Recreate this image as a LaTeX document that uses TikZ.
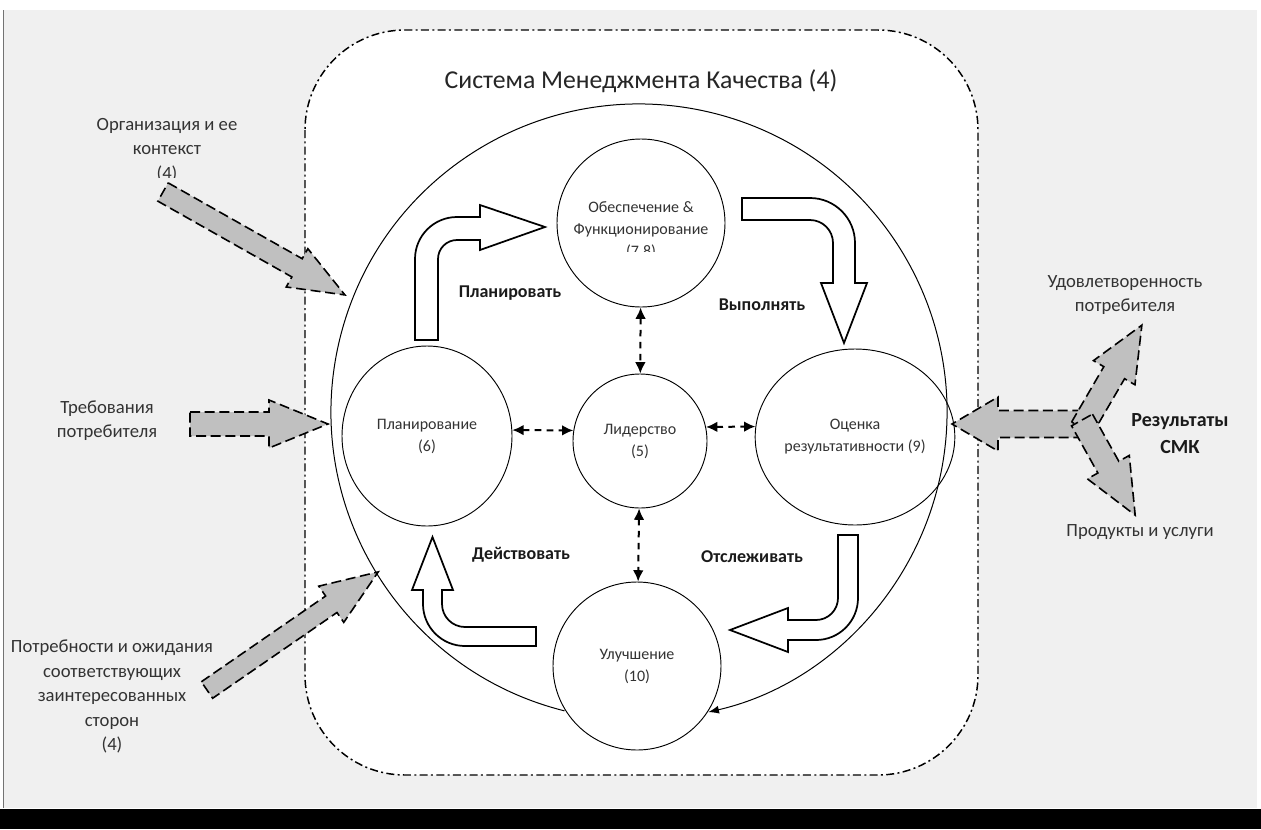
\documentclass[tikz,border=0pt]{standalone}
\usepackage{fontspec}
\setmainfont{Carlito}
\usetikzlibrary{arrows.meta,shapes.geometric,calc}
\definecolor{bggrey}{HTML}{F0F0F0}
\definecolor{argrey}{HTML}{C0C0C0}
\definecolor{txtgrey}{HTML}{333333}
\definecolor{boldtxt}{HTML}{1A1A1A}
% #1 x, #2 y (tail centre), #3 angle, #4 length, #5 shaft half width, #6 head half width, #7 head length
\newcommand{\blockarr}[7]{%
  \begin{scope}[shift={(#1,#2)},rotate=#3]
    \filldraw[inarrow] (0,-#5) -- ({#4-#7},-#5) -- ({#4-#7},-#6) -- (#4,0) -- ({#4-#7},#6) -- ({#4-#7},#5) -- (0,#5) -- cycle;
  \end{scope}}
\begin{document}
\begin{tikzpicture}[x=0.75pt,y=0.75pt,yscale=-1,
  inarrow/.style={fill=argrey,draw=black,line width=1.2pt,dash pattern=on 7.5pt off 3.5pt},
  wharrow/.style={fill=white,draw=black,line width=1.3pt,line join=miter},
  darr/.style={{Latex[length=8.5pt,width=8pt]}-{Latex[length=8.5pt,width=8pt]},dash pattern=on 5pt off 4pt,line width=1.5pt},
  proc/.style={draw=black,line width=0.7pt,fill=white,inner sep=0pt,text=txtgrey,align=center,font=\fontsize{12}{16.5}\selectfont},
  intxt/.style={text=txtgrey,align=center,font=\fontsize{12}{16.5}\selectfont,inner sep=0pt},
  outtxt/.style={text=txtgrey,align=center,font=\fontsize{14}{18.4}\selectfont,inner sep=0pt},
  phase/.style={text=boldtxt,font=\bfseries\fontsize{13.5}{16}\selectfont,inner sep=0pt},
  frame/.style={fill=white,line width=1.1pt,dash pattern=on 6pt off 2.5pt on 1.5pt off 2.5pt,rounded corners=75pt}
]
\useasboundingbox (0,0) rectangle (1261,829);
% background
\fill[bggrey] (3,10) rectangle (1257,808);
\draw[black!55,line width=0.6pt] (3,10) -- (3,808);
\fill[black] (0,809) rectangle (1261,829);
% QMS frame
\draw[frame] (305,30) rectangle (978,775);
\node[text=black!85,font=\fontsize{19.3}{22}\selectfont,inner sep=0pt] (title) at (641,81) {Система Менеджмента Качества (4)};

% process circles
\coordinate (bigc) at (639,412);
\node[proc,circle,minimum size=126pt] (obes) at (641,223) {};
\node[proc,ellipse,minimum width=127.5pt,minimum height=135pt] (plan) at (427,436) {Планирование\\(6)};
\node[proc,circle,minimum size=100.5pt] (lid) at (640,441) {Лидерство\\(5)};
\node[proc,ellipse,minimum width=126pt,minimum height=132pt] (ocen) at (855,437) {Оценка\\результативности (9)};
\node[proc,circle,minimum size=126pt] (ulu) at (637,666) {Улучшение\\(10)};
\begin{scope}
  \clip (550,150) rectangle (730,251);
  \node[intxt] (obestxt) at (641,230) {Обеспечение \&\\Функционирование\\(7,8)};
\end{scope}

% big cycle
\draw[line width=0.75pt,-{Latex[length=8pt,width=6pt]}] ($(bigc)+(104:308)$) arc[start angle=104,end angle=437,radius=308];

% dashed links
\draw[darr] (obes) -- (lid);
\draw[darr] (lid) -- (ulu);
\draw[darr] (plan.4) -- (lid.171);
\draw[darr] (lid.12) -- (ocen.174);

% PDCA block arrows
\draw[wharrow] (415,340) -- (415,259) arc[start angle=180,end angle=270,radius=42] -- (480,217) -- (480,205) -- (545,227) -- (480,250) -- (480,240) -- (457,240) arc[start angle=270,end angle=180,radius=19] -- (438,340) -- cycle;
\draw[wharrow] (742,198) -- (810,198) arc[start angle=270,end angle=360,radius=45] -- (855,283) -- (867,283) -- (844,343) -- (821,283) -- (833,283) -- (833,243) arc[start angle=0,end angle=-90,radius=23] -- (742,220) -- cycle;
\draw[wharrow] (838,535) -- (858,535) -- (858,598) arc[start angle=0,end angle=90,radius=42] -- (788,640) -- (788,652) -- (730,630) -- (788,608) -- (788,620) -- (816,620) arc[start angle=90,end angle=0,radius=22] -- cycle;
\draw[wharrow] (536,627) -- (465,627) arc[start angle=90,end angle=180,radius=23] -- (442,590) -- (453,590) -- (432.5,537) -- (412,590) -- (423,590) -- (423,604) arc[start angle=180,end angle=90,radius=42] -- (536,646) -- cycle;

\node[phase] (pl) at (510,293) {Планировать};
\node[phase] (vy) at (762,305) {Выполнять};
\node[phase] (de) at (521,555) {Действовать};
\node[phase] (ot) at (752,557) {Отслеживать};

% inputs
\blockarr{163}{192}{29.5}{209}{10.5}{22}{55}
\blockarr{190}{424}{0}{138}{12}{24}{59}
\blockarr{207}{690}{-34.6}{208}{10}{22}{57}
% outputs
\blockarr{1098}{424}{180}{146}{13.5}{27}{46}
\blockarr{1082}{428}{-59.8}{119}{12}{24}{55}
\blockarr{1082}{420}{60.8}{109}{12}{24}{55}

% outer labels
\begin{scope}
  \clip (0,0) rectangle (300,177);
  \node[outtxt] (org) at (167,150) {Организация и ее\\контекст\\(4)};
\end{scope}
\node[outtxt] (treb) at (107,420.5) {Требования\\потребителя};
\node[outtxt] (potr) at (112,696.5) {Потребности и ожидания\\соответствующих\\заинтересованных\\сторон\\(4)};
\node[outtxt] (udov) at (1125,295) {Удовлетворенность\\потребителя};
\node[outtxt] (prod) at (1140,532) {Продукты и услуги};
\node[text=boldtxt,font=\bfseries\fontsize{15}{20}\selectfont,align=center,inner sep=0pt] (rez) at (1180,433.5) {Результаты\\СМК};
\end{tikzpicture}
\end{document}
